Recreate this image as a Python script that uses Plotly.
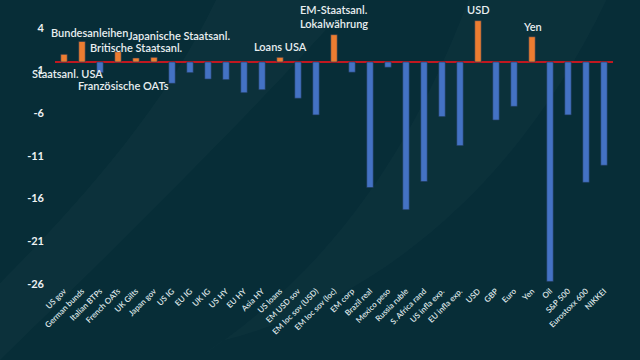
import plotly.graph_objects as go

categories = ["US gov", "German bunds", "Italian BTPs", "French OATs", "UK Gilts", "Japan gov",
              "US IG", "EU IG", "UK IG", "US HY", "EU HY", "Asia HY", "US loans", "EM USD sov",
              "EM loc sov (USD)", "EM loc sov (loc)", "EM corp", "Brazil real", "Mexico peso",
              "Russia ruble", "S. Africa rand", "US infla exp.", "EU infla exp.", "USD", "GBP",
              "Euro", "Yen", "Oil", "S&P 500", "Eurostoxx 600", "NIKKEI"]
values = [0.9, 2.4, -1.25, 1.2, 0.47, 0.55,
          -2.5, -1.25, -2.0, -2.07, -3.6, -3.25, 0.55, -4.25,
          -6.2, 3.2, -1.2, -14.7, -0.62,
          -17.3, -14.0, -6.4, -9.8, 4.84, -6.8,
          -5.2, 2.96, -25.7, -6.2, -14.1, -12.1]
tick_vals = [4, -1, -6, -11, -16, -21, -26]

# annotations: (text, category, value, xshift)
labels = [
    ("Bundesanleihen", "German bunds", 3.5, 7),
    ("Britische Staatsanl.", "UK Gilts", 1.67, 0),
    ("Japanische Staatsanl.", "Japan gov", 3.16, 25),
    ("Staatsanl. USA", "US gov", -1.4, 3),
    ("Französische OATs", "French OATs", -2.77, 5),
    ("Loans USA", "US loans", 1.76, 0),
    ("EM-Staatsanl.<br>Lokalwährung", "EM loc sov (loc)", 5.27, 0),
    ("USD", "USD", 6.1, 0),
    ("Yen", "Yen", 4.2, 0),
]

POS = "#ED7D31"
NEG = "#4472C4"
colors = [POS if v >= 0 else NEG for v in values]

fig = go.Figure()
fig.add_trace(go.Bar(
    x=categories, y=values,
    marker=dict(color=colors, line=dict(color="#1d3550", width=0.6)),
    width=0.36,
))

for text, cat, v, xs in labels:
    fig.add_annotation(x=cat, y=v, text=text, xref="x", yref="y", showarrow=False,
                       xshift=xs, font=dict(family="Lato", size=11, color="#e8eef0", weight=600),
                       align="left")

# faint background swooshes
fig.add_shape(type="path", xref="paper", yref="paper", layer="below",
              path="M -0.1,-0.27 C 0.2,0.3 0.5,0.9 0.55,1.05 L 0.3,1.05 C 0.2,0.6 0.0,0.2 -0.1,0.0 Z",
              fillcolor="rgba(255,255,255,0.025)", line=dict(width=0))
fig.add_shape(type="path", xref="paper", yref="paper", layer="below",
              path="M 0.3,-0.2 C 0.6,-0.05 0.85,0.4 1.0,1.05 L 0.75,1.05 C 0.65,0.5 0.5,0.05 0.25,-0.27 Z",
              fillcolor="rgba(255,255,255,0.02)", line=dict(width=0))

fig.update_layout(
    width=640, height=360,
    paper_bgcolor="#072d37", plot_bgcolor="rgba(0,0,0,0)",
    margin=dict(l=55, r=27, t=0, b=76, autoexpand=False),
    showlegend=False,
    bargap=0.6,
    font=dict(family="Lato", color="#e4eaec"),
)
fig.update_xaxes(
    tickangle=-45, tickfont=dict(family="Lato", size=8, color="#dfe6e8", weight=600),
    showgrid=False, showline=False, ticks="", range=[-0.5, len(categories) - 0.5],
    automargin=False,
)
fig.update_yaxes(
    range=[-26, 7.26], tickvals=tick_vals, ticktext=[str(t) for t in tick_vals],
    tickfont=dict(family="Lato", size=11, color="#eef2f3", weight="bold"), showgrid=False,
    zeroline=True, zerolinecolor="#c01820", zerolinewidth=2, ticks="", ticklabelstandoff=10,
    automargin=False,
)

fig.write_html("out.html", config={"displayModeBar": False},
               post_script="document.body.style.margin='0';document.body.style.background='#072d37';")
